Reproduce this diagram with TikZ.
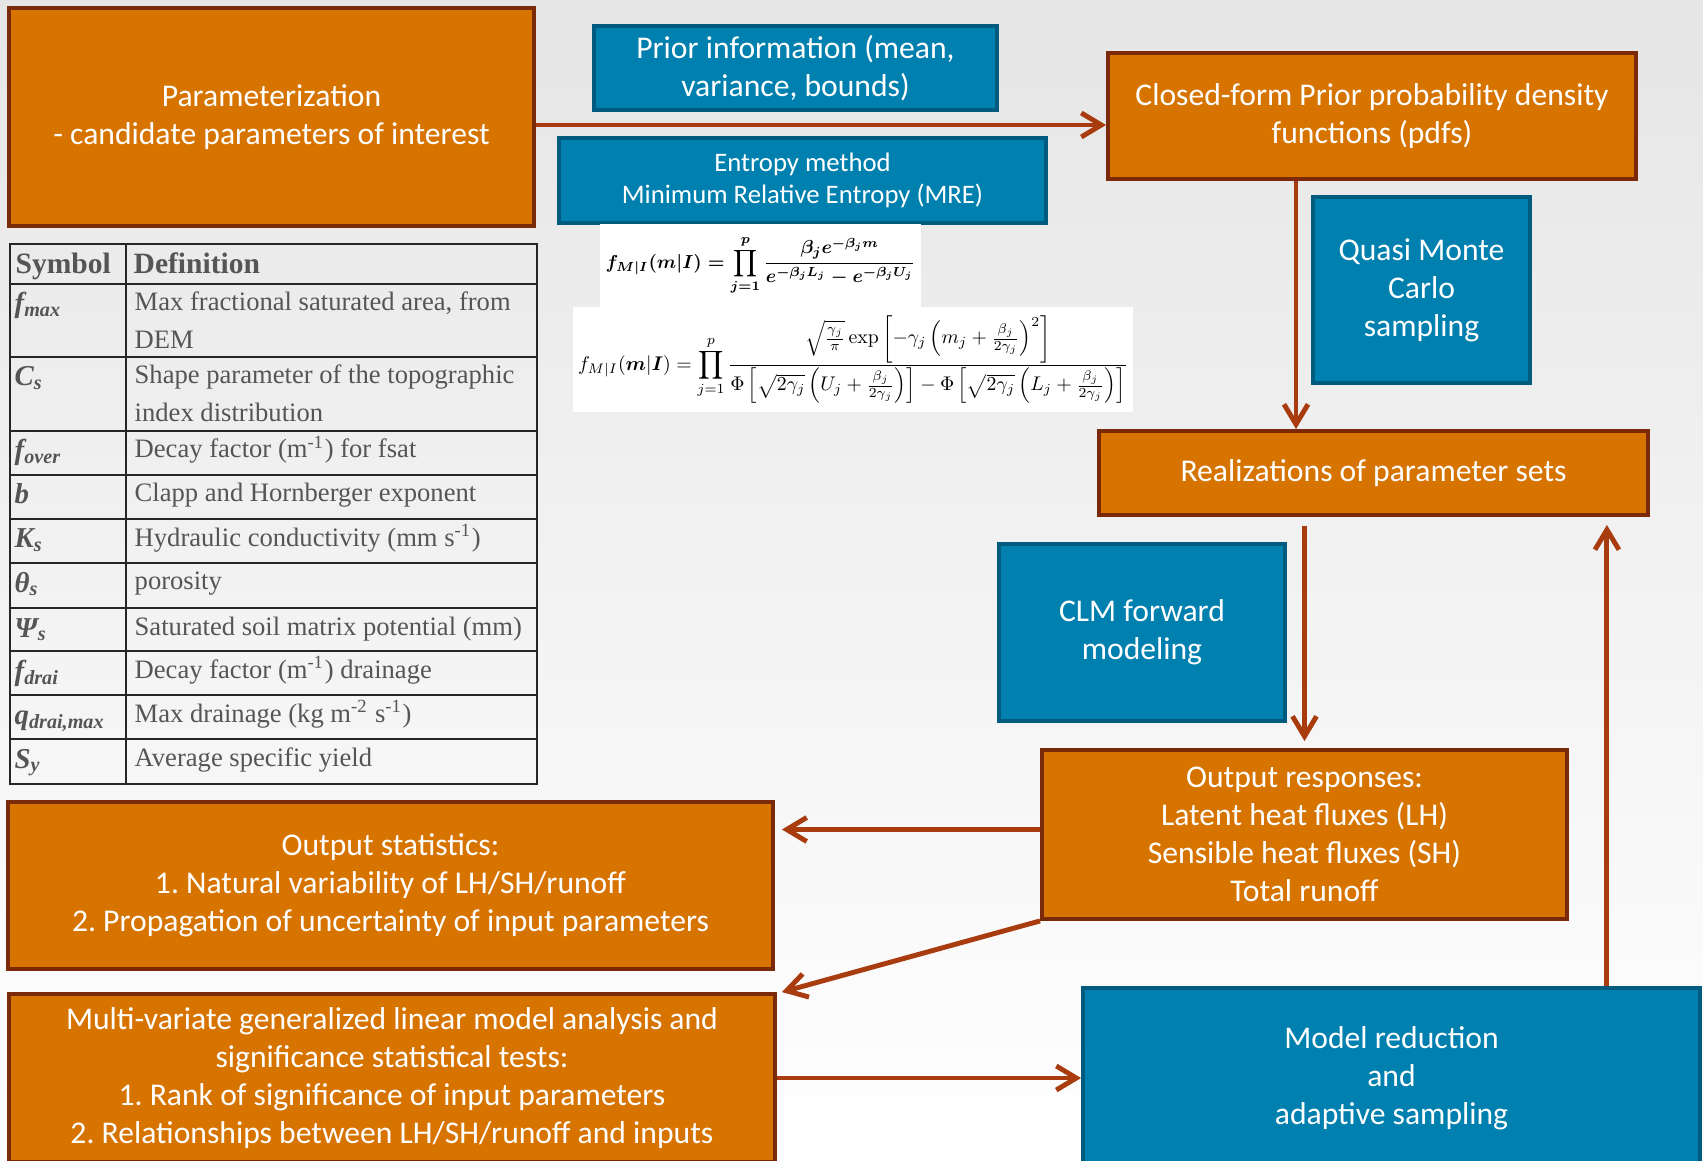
\documentclass[tikz,border=0pt]{standalone}
\usepackage{amsmath,amssymb}
\usepackage{graphicx}
\usepackage[no-math]{fontspec}
\setmainfont{Carlito}
\newfontfamily\tabfont{Liberation Serif}
\usetikzlibrary{arrows.meta}
\definecolor{boxorange}{HTML}{D77400}
\definecolor{boxorangeline}{HTML}{7A2A08}
\definecolor{boxblue}{HTML}{0080AF}
\definecolor{boxblueline}{HTML}{005B7F}
\definecolor{arrowrust}{HTML}{A83C0F}
\definecolor{tabgray}{HTML}{555555}
\frenchspacing

\begin{document}
\begin{tikzpicture}[
  box/.style={draw, line width=1.1pt, text=white, align=center, inner sep=0pt,
    font=\fontsize{9}{10.8}\selectfont},
  obox/.style={box, fill=boxorange, draw=boxorangeline},
  bbox/.style={box, fill=boxblue, draw=boxblueline},
  eqbox/.style={fill=white, inner sep=0pt},
  arr/.style={-{Straight Barb[length=2mm,width=2.4mm]}, line width=1.4pt,
    draw=arrowrust},
  cell/.style={anchor=base west, inner sep=0pt, text=tabgray},
  symb/.style={cell, font=\tabfont\fontsize{8.2}{9}\selectfont\bfseries\itshape},
  defn/.style={cell, font=\tabfont\fontsize{7.57}{10.7}\selectfont}]
  \useasboundingbox (0,0) rectangle (17.03,-11.61);
  \shade[top color=gray!20, middle color=gray!6, bottom color=white]
    (0,0) rectangle (17.03,-11.61);

  \node[obox, minimum width=5.25cm, minimum height=2.18cm] (param) at (2.715,-1.17)
    {Parameterization\\- candidate parameters of interest};
  \node[bbox, minimum width=4.03cm, minimum height=0.84cm] (prior) at (7.955,-0.68)
    {Prior information (mean,\\variance, bounds)};
  \node[bbox, minimum width=4.87cm, minimum height=0.85cm,
    font=\fontsize{7.6}{9.3}\selectfont] (mre) at (8.025,-1.805)
    {Entropy method\\Minimum Relative Entropy (MRE)};
  \node[obox, minimum width=5.28cm, minimum height=1.26cm] (pdf) at (13.72,-1.16)
    {Closed-form Prior probability density\\functions (pdfs)};
  \node[eqbox, minimum width=3.21cm, minimum height=0.83cm] (eqexp) at (7.605,-2.655)
    {\resizebox{3.1cm}{!}{\boldmath$\displaystyle f_{M|I}(m|I)=\prod_{j=1}^{p}
      \frac{\beta_j e^{-\beta_j m}}{e^{-\beta_j L_j}-e^{-\beta_j U_j}}$}};
  \node[eqbox, minimum width=5.60cm, minimum height=1.05cm] (eqnorm) at (8.53,-3.595)
    {\resizebox{5.5cm}{!}{$\displaystyle f_{M|I}(\boldsymbol{m}|\boldsymbol{I})
      =\prod_{j=1}^{p}\frac{\sqrt{\frac{\gamma_j}{\pi}}\exp\left[-\gamma_j
      \left(m_j+\frac{\beta_j}{2\gamma_j}\right)^2\right]}
      {\Phi\left[\sqrt{2\gamma_j}\left(U_j+\frac{\beta_j}{2\gamma_j}\right)\right]
      -\Phi\left[\sqrt{2\gamma_j}\left(L_j+\frac{\beta_j}{2\gamma_j}\right)\right]}$}};
  \node[bbox, minimum width=2.17cm, minimum height=1.86cm] (qmc) at (14.215,-2.9)
    {Quasi Monte\\Carlo\\sampling};
  \node[obox, minimum width=5.49cm, minimum height=0.84cm] (real) at (13.735,-4.73)
    {Realizations of parameter sets};
  \node[bbox, minimum width=2.86cm, minimum height=1.77cm] (clm) at (11.42,-6.325)
    {CLM forward\\modeling};
  \node[obox, minimum width=5.25cm, minimum height=1.69cm] (resp) at (13.045,-8.345)
    {Output responses:\\Latent heat fluxes (LH)\\Sensible heat fluxes (SH)\\Total runoff};
  \node[obox, minimum width=7.65cm, minimum height=1.67cm] (stats) at (3.905,-8.855)
    {Output statistics:\\1. Natural variability of LH/SH/runoff\\
     2. Propagation of uncertainty of input parameters};
  \node[obox, minimum width=7.66cm, minimum height=1.68cm] (glm) at (3.92,-10.78)
    {Multi-variate generalized linear model analysis and\\significance statistical tests:\\
     1. Rank of significance of input parameters\\
     2. Relationships between LH/SH/runoff and inputs};
  \node[bbox, minimum width=6.17cm, minimum height=1.80cm] (reduce) at (13.915,-10.78)
    {Model reduction\\and\\adaptive sampling};

  \draw[arr] ([yshift=-0.8mm]param.east) -- ([yshift=-0.8mm]param.east -| pdf.west);
  \draw[arr] ([xshift=-7.6mm]pdf.south) -- ([xshift=-7.6mm]pdf.south |- real.north);
  \draw[arr, shorten <=0.9mm, shorten >=0.7mm] (real.south -| resp.north) -- (resp.north);
  \coordinate (fb) at ([xshift=-4.3mm]real.south east);
  \draw[arr, shorten >=0.8mm] (fb |- reduce.north) -- (fb);
  \draw[arr, shorten >=0.7mm] ([yshift=0.5mm]resp.west) -- ([yshift=0.5mm]resp.west -| stats.east);
  \draw[arr] (resp.south west) -- ([xshift=0.5mm]glm.north east);
  \draw[arr] (glm.east) -- (reduce.west);

  \draw[line width=0.7pt, black!85] (0.10,-2.44) rectangle (5.37,-7.84);
  \draw[line width=0.7pt, black!85] (1.26,-2.44) -- (1.26,-7.84);
  \foreach \y in {2.84,3.57,4.31,4.75,5.19,5.63,6.08,6.51,6.95,7.39}
    \draw[line width=0.7pt, black!85] (0.10,-\y) -- (5.37,-\y);
  \node[cell, font=\tabfont\fontsize{8.4}{9}\selectfont\bfseries] (symhead) at (0.15,-2.74) {Symbol};
  \node[cell, font=\tabfont\fontsize{8.4}{9}\selectfont\bfseries] (defhead) at (1.33,-2.74) {Definition};
  \foreach \top/\sym/\txt [count=\i] in {
    2.84/{f\textsubscript{max}}/{Max fractional saturated area, from\\DEM},
    3.57/{C\textsubscript{s}}/{Shape parameter of the topographic\\index distribution},
    4.31/{f\textsubscript{over}}/{Decay factor (m\textsuperscript{-1}) for fsat},
    4.75/{b}/{Clapp and Hornberger exponent},
    5.19/{K\textsubscript{s}}/{Hydraulic conductivity (mm s\textsuperscript{-1})},
    5.63/{θ\textsubscript{s}}/{porosity},
    6.08/{Ψ\textsubscript{s}}/{Saturated soil matrix potential (mm)},
    6.51/{f\textsubscript{drai}}/{Decay factor (m\textsuperscript{-1}) drainage},
    6.95/{q\textsubscript{drai,max}}/{Max drainage (kg m\textsuperscript{-2} s\textsuperscript{-1})},
    7.39/{S\textsubscript{y}}/{Average specific yield}} {
    \node[symb] (sym\i) at (0.14,-\top-0.29) {\sym};
    \node[defn] (def\i) at (1.34,-\top-0.27) {\parbox[t]{3.95cm}{\raggedright\txt}};
  }
\end{tikzpicture}
\end{document}
